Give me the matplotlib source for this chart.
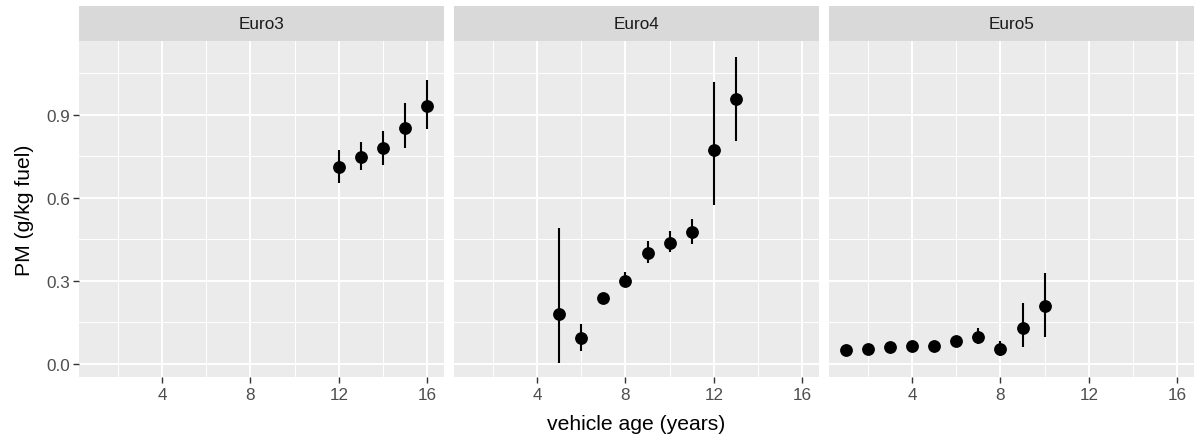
import matplotlib
matplotlib.use("Agg")
import matplotlib.pyplot as plt
import numpy as np

plt.rcParams['font.family'] = ['Liberation Sans', 'DejaVu Sans']

panels = ["Euro3", "Euro4", "Euro5"]

euro3_age = [12, 13, 14, 15, 16]
euro3_pm = [0.710, 0.747, 0.779, 0.852, 0.930]
euro3_lo = [0.655, 0.700, 0.717, 0.780, 0.848]
euro3_hi = [0.773, 0.800, 0.841, 0.941, 1.025]

euro4_age = [5, 6, 7, 8, 9, 10, 11, 12, 13]
euro4_pm = [0.182, 0.093, 0.238, 0.301, 0.401, 0.437, 0.475, 0.774, 0.957]
euro4_lo = [0.005, 0.046, 0.228, 0.277, 0.365, 0.405, 0.433, 0.574, 0.804]
euro4_hi = [0.490, 0.144, 0.248, 0.331, 0.443, 0.479, 0.522, 1.019, 1.109]

euro5_age = [1, 2, 3, 4, 5, 6, 7, 8, 9, 10]
euro5_pm = [0.051, 0.055, 0.060, 0.066, 0.066, 0.083, 0.099, 0.054, 0.129, 0.208]
euro5_lo = [0.036, 0.046, 0.052, 0.058, 0.058, 0.073, 0.072, 0.028, 0.060, 0.096]
euro5_hi = [0.062, 0.064, 0.068, 0.074, 0.074, 0.093, 0.129, 0.084, 0.219, 0.329]

x_ticks = [4, 8, 12, 16]
x_minor = [2, 6, 10, 14]
y_ticks = [0.0, 0.3, 0.6, 0.9]
y_minor = [0.15, 0.45, 0.75, 1.05]

data = [
    (euro3_age, euro3_pm, euro3_lo, euro3_hi),
    (euro4_age, euro4_pm, euro4_lo, euro4_hi),
    (euro5_age, euro5_pm, euro5_lo, euro5_hi),
]

W, H = 1195, 439
fig = plt.figure(figsize=(W / 100, H / 100), dpi=100)
fig.patch.set_facecolor("white")

lefts = [79, 454, 829]
pw = 365
ptop, pbot = 42, 378
stop = 7

tick_col = "#4D4D4D"
tick_fs = 12.3
for i, (name, (age, pm, lo, hi)) in enumerate(zip(panels, data)):
    l = lefts[i]
    ax = fig.add_axes([l / W, (H - pbot) / H, pw / W, (pbot - ptop) / H])
    ax.set_facecolor("#EBEBEB")
    for s in ax.spines.values():
        s.set_visible(False)
    ax.set_xlim(0.25, 16.75)
    ax.set_ylim(-0.047, 1.166)
    for xm in x_minor:
        ax.axvline(xm, color="white", lw=0.7, zorder=0)
    for ym in y_minor:
        ax.axhline(ym, color="white", lw=0.7, zorder=0)
    for xm in x_ticks:
        ax.axvline(xm, color="white", lw=1.4, zorder=0)
    for ym in y_ticks:
        ax.axhline(ym, color="white", lw=1.4, zorder=0)
    pm_a = np.array(pm)
    yerr = [pm_a - np.array(lo), np.array(hi) - pm_a]
    ax.errorbar(age, pm, yerr=yerr, fmt="o", color="black", ms=8.2,
                elinewidth=1.5, capsize=0, zorder=3)
    ax.set_xticks(x_ticks)
    ax.set_xticklabels([str(t) for t in x_ticks])
    ax.tick_params(axis="x", length=4, width=1, color="#333333",
                   labelsize=tick_fs, labelcolor=tick_col, pad=3.5)
    ax.set_yticks(y_ticks)
    if i == 0:
        ax.set_yticklabels([f"{t:.1f}" for t in y_ticks])
        ax.tick_params(axis="y", length=4, width=1, color="#333333",
                       labelsize=tick_fs, labelcolor=tick_col, pad=2.5)
    else:
        ax.tick_params(axis="y", length=0, labelleft=False)
    # strip
    sax = fig.add_axes([l / W, (H - ptop) / H, pw / W, (ptop - stop) / H])
    sax.set_facecolor("#D9D9D9")
    sax.set_xticks([])
    sax.set_yticks([])
    for s in sax.spines.values():
        s.set_visible(False)
    sax.text(0.5, 0.5, name, ha="center", va="center", fontsize=tick_fs,
             color="#1A1A1A", transform=sax.transAxes)

fig.text((79 + 1194) / 2 / W, 1 - 425 / H, "vehicle age (years)", ha="center",
         va="center", fontsize=15.2, color="black")
fig.text(25 / W, 1 - 210 / H, "PM (g/kg fuel)", ha="center", va="center",
         rotation=90, fontsize=15.2, color="black")

fig.savefig("out.png", dpi=100)
